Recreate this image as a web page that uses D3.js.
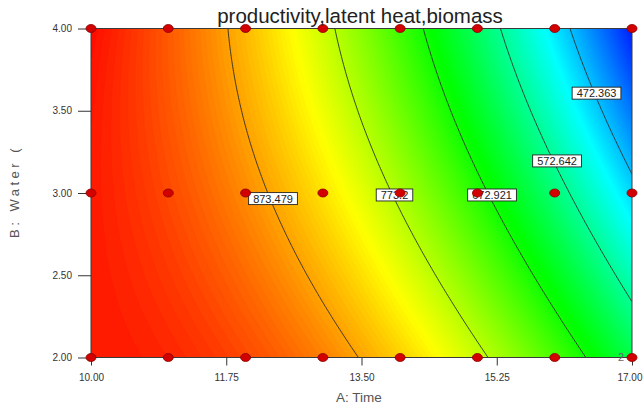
<!DOCTYPE html>
<html><head><meta charset="utf-8">
<script src="https://cdn.jsdelivr.net/npm/d3@7"></script>
<style>body{margin:0;background:#fff} svg{display:block}</style>
</head><body><svg id="c" width="643" height="408"></svg>
<script>
const title = "productivity,latent heat,biomass";
const xLabel = "A: Time";
const yLabel = "B: Water (";
const xTicks = [10, 11.75, 13.5, 15.25, 17];
const yTicks = [2, 2.5, 3, 3.5, 4];
const designA = [10, 11, 12, 13, 14, 15, 16, 17];
const designB = [2, 3, 4];
const contourLevels = [873.479, 773.2, 672.921, 572.642, 472.363];
const contourLabels = ["873.479", "773.2", "672.921", "572.642", "472.363"];
const labelA = [12.355, 13.927, 15.189, 16.030, 16.541];
const labelB = [2.966, 2.988, 2.988, 3.195, 3.607];
// points (A, B)
const traceA = [
  [11.773, 11.799, 12.187, 12.420, 12.614, 13.299, 13.481],
  [13.157, 13.209, 13.739, 14.037, 14.283, 14.956, 15.150],
  [14.309, 14.386, 14.994, 15.318, 15.551, 16.237, 16.418],
  [15.292, 15.370, 15.551, 16.094, 16.366, 16.599, 16.974],
  [16.198, 16.301, 16.392, 16.974]
];
const traceB = [
  [4.000, 3.872, 3.140, 2.854, 2.652, 2.104, 2.000],
  [4.000, 3.872, 3.140, 2.854, 2.652, 2.104, 2.000],
  [4.000, 3.872, 3.140, 2.854, 2.652, 2.104, 2.000],
  [4.000, 3.872, 3.659, 3.079, 2.835, 2.652, 2.360],
  [4.000, 3.872, 3.750, 3.140]
];
const colorValues = [357, 510, 663, 816, 975];
const colorNames = ["#0000ff", "#00ffff", "#00ff00", "#ffff00", "#ff0000"];
const replicateNote = "2";

// ---- fit a cubic response surface through the traced contour points ----
const A0 = 13.5, B0 = 3;
function feats(A, B) {
  const a = (A - A0) / 3.5, b = B - B0;
  return [1, a, b, a * a, b * b, a * b, a * a * a, a * a * b, a * b * b, b * b * b];
}
const NF = 10;
const M = Array.from({length: NF}, () => new Array(NF).fill(0));
const R = new Array(NF).fill(0);
traceA.forEach((arr, k) => arr.forEach((A, i) => {
  const f = feats(A, traceB[k][i]);
  for (let p = 0; p < NF; p++) { R[p] += f[p] * contourLevels[k]; for (let q = 0; q < NF; q++) M[p][q] += f[p] * f[q]; }
}));
for (let p = 0; p < NF; p++) M[p][p] += 1e-6;
function solve(M, R) {
  const n = R.length, m = M.map((r, i) => r.concat([R[i]]));
  for (let c = 0; c < n; c++) {
    let piv = c; for (let r = c + 1; r < n; r++) if (Math.abs(m[r][c]) > Math.abs(m[piv][c])) piv = r;
    [m[c], m[piv]] = [m[piv], m[c]];
    for (let r = 0; r < n; r++) if (r !== c) { const t = m[r][c] / m[c][c]; for (let k = c; k <= n; k++) m[r][k] -= t * m[c][k]; }
  }
  return m.map((r, i) => r[n] / r[i]);
}
const coef = solve(M, R);
const model = (A, B) => d3.sum(feats(A, B), (v, i) => v * coef[i]);

// ---- layout ----
const svg = d3.select("#c");
const x = d3.scaleLinear().domain([10, 17]).range([91, 632]);
const y = d3.scaleLinear().domain([2, 4]).range([357.5, 28.5]);
const color = d3.scaleLinear().domain(colorValues).range(colorNames).clamp(true);

svg.append("defs").append("clipPath").attr("id", "plotclip")
  .append("rect").attr("x", x(10)).attr("y", y(4)).attr("width", x(17) - x(10)).attr("height", y(2) - y(4));

const gField = svg.append("g").attr("clip-path", "url(#plotclip)");
// colour field
const nx = 271, ny = 165;
const grid = new Array(nx * ny);
for (let j = 0; j < ny; j++) for (let i = 0; i < nx; i++) {
  const A = 10 + (i + 0.5) * 7 / nx, B = 4 - (j + 0.5) * 2 / ny;
  grid[j * nx + i] = model(A, B);
}
const step = 4;
const ext = d3.extent(grid);
const thresholds = d3.range(Math.floor(ext[0] / step) * step, ext[1] + step, step);
const proj = d3.geoTransform({point: function (gx, gy) {
  this.stream.point(x(10 + gx * 7 / nx), y(4 - gy * 2 / ny));
}});
const gpath = d3.geoPath(proj);
gField.append("rect").attr("x", x(10)).attr("y", y(4)).attr("width", x(17) - x(10)).attr("height", y(2) - y(4))
  .attr("fill", color(ext[0]));
gField.selectAll("path.band").data(d3.contours().size([nx, ny]).thresholds(thresholds)(grid))
  .join("path").attr("class", "band").attr("d", gpath)
  .attr("fill", d => color(d.value + step / 2)).attr("stroke", d => color(d.value + step / 2)).attr("stroke-width", 0.6);

// contour lines: find where the surface crosses each level along every B row
const As = d3.range(9.9, 17.1001, 0.005);
function crossA(L, B) {
  let prev = model(As[0], B) - L;
  for (let i = 1; i < As.length; i++) {
    const cur = model(As[i], B) - L;
    if (prev === 0) return As[i - 1];
    if (prev * cur < 0) return As[i - 1] + (As[i] - As[i - 1]) * prev / (prev - cur);
    prev = cur;
  }
  return NaN;
}
const line = d3.line().x(d => x(d[0])).y(d => y(d[1])).defined(d => isFinite(d[0]));
const Bs = d3.range(1.98, 4.0201, 0.01);
gField.selectAll("path.iso").data(contourLevels).join("path").attr("class", "iso")
  .attr("d", L => line(Bs.map(B => [crossA(L, B), B])))
  .attr("fill", "none").attr("stroke", "#2b2b2b").attr("stroke-width", 0.9);

// contour labels
const axFont = "Liberation Sans, Arial, sans-serif";
const gLab = svg.append("g").attr("font-family", axFont).attr("font-size", 11);
contourLabels.forEach((t, i) => {
  const g = gLab.append("g").attr("transform", `translate(${x(labelA[i])},${y(labelB[i])})`);
  const r = g.append("rect").attr("fill", "#fff").attr("stroke", "#222").attr("stroke-width", 0.9);
  const tx = g.append("text").attr("text-anchor", "middle").attr("dy", "0.36em").attr("fill", "#222").text(t);
  const w = tx.node().getComputedTextLength() + 9;
  r.attr("x", -w / 2).attr("y", -6).attr("width", w).attr("height", 12);
});

// border
svg.append("rect").attr("x", x(10)).attr("y", y(4)).attr("width", x(17) - x(10)).attr("height", y(2) - y(4))
  .attr("fill", "none").attr("stroke", "#3a3a3a").attr("stroke-width", 1);

// axes
const gx = svg.append("g").attr("transform", `translate(0,${y(2)})`)
  .call(d3.axisBottom(x).tickValues(xTicks).tickFormat(d3.format(".2f")).tickSize(8).tickPadding(8));
const gy = svg.append("g").attr("transform", `translate(${x(10)},0)`)
  .call(d3.axisLeft(y).tickValues(yTicks).tickFormat(d3.format(".2f")).tickSize(13).tickPadding(6));
[gx, gy].forEach(g => {
  g.select(".domain").remove();
  g.selectAll("line").attr("stroke", "#333");
  g.selectAll("text").attr("fill", "#333").attr("font-size", 10).attr("font-family", axFont);
});
// keep the last x tick label inside the picture, as in the original
gx.selectAll(".tick text").filter(d => d === xTicks[xTicks.length - 1])
  .attr("text-anchor", "end").attr("x", 642 - x(17));

// design points
svg.append("g").selectAll("ellipse").data(d3.cross(designB, designA)).join("ellipse")
  .attr("cx", d => x(d[1])).attr("cy", d => y(d[0])).attr("rx", 5).attr("ry", 4)
  .attr("fill", "#d20000").attr("stroke", "#8a0000").attr("stroke-width", 0.8);

svg.append("text").attr("x", x(17) - 8).attr("y", y(2) + 3).attr("text-anchor", "end")
  .attr("font-family", axFont).attr("font-size", 11).attr("fill", "#666").text(replicateNote);

// titles
svg.append("text").attr("x", 360).attr("y", 23).attr("text-anchor", "middle")
  .attr("font-family", axFont).attr("font-size", 20.5).attr("fill", "#222").text(title);
svg.append("text").attr("x", 359).attr("y", 402).attr("text-anchor", "middle")
  .attr("font-family", axFont).attr("font-size", 13.5).attr("fill", "#555").text(xLabel);
svg.append("text").attr("transform", "translate(19,238) rotate(-90)").attr("text-anchor", "start")
  .attr("font-family", axFont).attr("font-size", 13).attr("letter-spacing", 3.5).attr("fill", "#555").text(yLabel);
</script></body></html>
